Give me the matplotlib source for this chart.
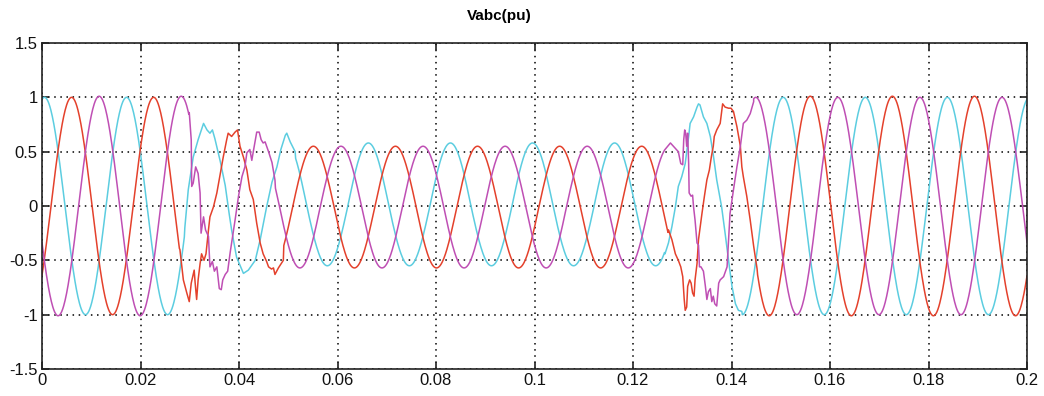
import numpy as np
import matplotlib
matplotlib.use('Agg')
import matplotlib.pyplot as plt

# 60 Hz, sag from ~0.030 s to ~0.130 s
freq = 60.0
t_sag = [0.0300, 0.1300]
sag_shift = 0.0009          # phase advance during the sag (s)

names = ['red', 'magenta', 'cyan']
colors = ['#e4412c', '#bf4fb4', '#5ccde0']
peak_time = [0.0060, 0.0116, 0.0005]   # time of first maximum of each phase
pre_amp = [1.0, 1.01, 1.0]
sag_peak = [0.55, 0.55, 0.58]
sag_trough = [0.57, 0.57, 0.55]
post_amp = [1.01, 1.0, 1.0]

# hand-read points in the disturbed parts (sag start / sag end)
red_t1 = [0.0280, 0.0287, 0.0294, 0.0299, 0.0303, 0.0306, 0.0309, 0.0311, 0.0314, 0.0317,
          0.0321, 0.0324, 0.0329, 0.0333, 0.0338, 0.0341, 0.0348, 0.0355, 0.0362, 0.0368,
          0.0375, 0.0378, 0.0385, 0.0392, 0.0397, 0.0402, 0.0409, 0.0416, 0.0422, 0.0429,
          0.0436, 0.0443, 0.0449, 0.0456, 0.0460, 0.0466, 0.0470, 0.0473, 0.0480, 0.0490]
red_v1 = [-0.40, -0.68, -0.80, -0.88, -0.71, -0.65, -0.59, -0.71, -0.86, -0.68,
          -0.53, -0.44, -0.50, -0.44, -0.22, -0.10, -0.01, 0.12, 0.30, 0.45,
          0.61, 0.67, 0.64, 0.68, 0.70, 0.55, 0.45, 0.33, 0.15, 0.06,
          -0.16, -0.34, -0.44, -0.51, -0.56, -0.58, -0.57, -0.63, -0.57, -0.50]
red_t2 = [0.1272, 0.1279, 0.1286, 0.1292, 0.1297, 0.1301, 0.1304, 0.1306, 0.1309, 0.1311,
          0.1315, 0.1318, 0.1321, 0.1324, 0.1326, 0.1330, 0.1333, 0.1340, 0.1345, 0.1350,
          0.1355, 0.1359, 0.1363, 0.1365, 0.1370, 0.1377, 0.1382, 0.1387, 0.1394, 0.1399,
          0.1404, 0.1411, 0.1418, 0.1421, 0.1424, 0.1431, 0.1438, 0.1445, 0.1452]
red_v2 = [-0.22, -0.31, -0.44, -0.50, -0.56, -0.65, -0.86, -0.96, -0.93, -0.74,
          -0.68, -0.71, -0.80, -0.83, -0.68, -0.53, -0.31, -0.07, 0.09, 0.24,
          0.33, 0.45, 0.55, 0.64, 0.70, 0.76, 0.94, 0.91, 0.90, 0.90,
          0.87, 0.73, 0.55, 0.36, 0.27, 0.09, -0.13, -0.37, -0.58]

mag_t1 = [0.0299, 0.0303, 0.0304, 0.0307, 0.0312, 0.0317, 0.0321, 0.0323, 0.0328, 0.0332,
          0.0338, 0.0341, 0.0346, 0.0350, 0.0355, 0.0360, 0.0364, 0.0367, 0.0372, 0.0377,
          0.0382, 0.0392, 0.0399, 0.0406, 0.0412, 0.0416, 0.0422, 0.0426, 0.0429, 0.0436,
          0.0441, 0.0445, 0.0449, 0.0453, 0.0460, 0.0467, 0.0473]
mag_v1 = [0.86, 0.61, 0.18, 0.21, 0.36, 0.30, 0.12, -0.25, -0.10, -0.22,
          -0.28, -0.56, -0.51, -0.60, -0.56, -0.76, -0.77, -0.68, -0.63, -0.60,
          -0.43, -0.13, 0.09, 0.27, 0.36, 0.49, 0.52, 0.42, 0.50, 0.68,
          0.68, 0.61, 0.58, 0.59, 0.50, 0.40, 0.24]
mag_t2 = [0.1265, 0.1276, 0.1286, 0.1292, 0.1297, 0.1301, 0.1303, 0.1305, 0.1307, 0.1309,
          0.1311, 0.1313, 0.1314, 0.1318, 0.1321, 0.1323, 0.1326, 0.1330, 0.1333, 0.1335,
          0.1338, 0.1343, 0.1347, 0.1350, 0.1353, 0.1357, 0.1360, 0.1363, 0.1366, 0.1370,
          0.1374, 0.1377, 0.1384, 0.1391, 0.1394, 0.1397, 0.1404, 0.1411, 0.1418, 0.1424,
          0.1431, 0.1438, 0.1445]
mag_v2 = [0.52, 0.58, 0.53, 0.50, 0.39, 0.38, 0.61, 0.70, 0.67, 0.55,
          0.67, 0.39, 0.12, 0.09, 0.10, -0.01, -0.13, -0.34, -0.36, -0.56,
          -0.56, -0.60, -0.74, -0.86, -0.79, -0.76, -0.88, -0.83, -0.90, -0.92,
          -0.71, -0.68, -0.65, -0.56, -0.31, -0.07, 0.15, 0.36, 0.55, 0.76,
          0.79, 0.85, 0.96]

cyan_t1 = [0.0290, 0.0297, 0.0307, 0.0317, 0.0328, 0.0335, 0.0341, 0.0346, 0.0351, 0.0362,
           0.0372, 0.0380, 0.0385, 0.0395, 0.0409, 0.0419, 0.0433, 0.0443, 0.0456, 0.0467,
           0.0477, 0.0485, 0.0494, 0.0497, 0.0504, 0.0514]
cyan_v1 = [-0.20, 0.15, 0.45, 0.61, 0.76, 0.70, 0.67, 0.70, 0.62, 0.41,
           0.19, -0.07, -0.22, -0.47, -0.62, -0.59, -0.50, -0.31, -0.01, 0.22,
           0.36, 0.52, 0.65, 0.67, 0.59, 0.50]
cyan_t2 = [0.1265, 0.1272, 0.1279, 0.1286, 0.1292, 0.1299, 0.1306, 0.1313, 0.1316, 0.1323,
           0.1330, 0.1333, 0.1336, 0.1343, 0.1350, 0.1357, 0.1363, 0.1370, 0.1380, 0.1387,
           0.1394, 0.1401, 0.1408, 0.1414, 0.1421]
cyan_v2 = [-0.44, -0.34, -0.19, -0.01, 0.18, 0.27, 0.39, 0.64, 0.76, 0.82,
           0.91, 0.94, 0.93, 0.82, 0.76, 0.64, 0.47, 0.24, -0.01, -0.25,
           -0.50, -0.74, -0.90, -0.96, -0.97]

read_t = [(red_t1, red_t2), (mag_t1, mag_t2), (cyan_t1, cyan_t2)]
read_v = [(red_v1, red_v2), (mag_v1, mag_v2), (cyan_v1, cyan_v2)]

t = np.arange(0, 0.20001, 0.0001)


def phase_wave(i):
    w = 2 * np.pi * freq
    c_normal = np.cos(w * (t - peak_time[i]))
    c_sag = np.cos(w * (t - peak_time[i] + sag_shift))
    a_sag = np.where(c_sag >= 0, sag_peak[i], sag_trough[i])
    v = np.where(t < t_sag[0], pre_amp[i] * c_normal,
                 np.where(t < t_sag[1], a_sag * c_sag, post_amp[i] * c_normal))
    keep = np.ones_like(t, dtype=bool)
    for tt in read_t[i]:
        keep &= ~((t >= tt[0]) & (t <= tt[-1]))
    tx = np.concatenate([t[keep], read_t[i][0], read_t[i][1]])
    vx = np.concatenate([v[keep], read_v[i][0], read_v[i][1]])
    order = np.argsort(tx)
    return tx[order], vx[order]


fig = plt.figure(figsize=(10.44, 3.96), dpi=100)
ax = fig.add_axes([42 / 1044, 27 / 396, 985 / 1044, 326 / 396])

for i in [2, 0, 1]:
    tx, vx = phase_wave(i)
    ax.plot(tx, vx, color=colors[i], lw=1.1)

ax.set_xlim(0, 0.2)
ax.set_ylim(-1.5, 1.5)
xt = [0, 0.02, 0.04, 0.06, 0.08, 0.1, 0.12, 0.14, 0.16, 0.18, 0.2]
xl = ['0', '0.02', '0.04', '0.06', '0.08', '0.1', '0.12', '0.14', '0.16', '0.18', '0.2']
yt = [-1.5, -1, -0.5, 0, 0.5, 1, 1.5]
yl = ['-1.5', '-1', '-0.5', '0', '0.5', '1', '1.5']
ax.set_xticks(xt)
ax.set_xticklabels(xl, fontname='Liberation Sans', fontsize=12)
ax.set_yticks(yt)
ax.set_yticklabels(yl, fontname='Liberation Sans', fontsize=12)
ax.tick_params(direction='in', length=5, width=1.2, top=True, right=True,
               colors='#222222', labelcolor='#111111', pad=3)
ax.grid(True, color='black', linestyle=(0, (1.0, 3.0)), linewidth=1.1)
for s in ax.spines.values():
    s.set_color('#222222')
    s.set_linewidth(1.2)

fig.text(499 / 1044, 1 - 16 / 396, 'Vabc(pu)', ha='center', va='center',
         fontname='Liberation Sans', fontweight='bold', fontsize=11)

fig.savefig('out.png', dpi=100)
